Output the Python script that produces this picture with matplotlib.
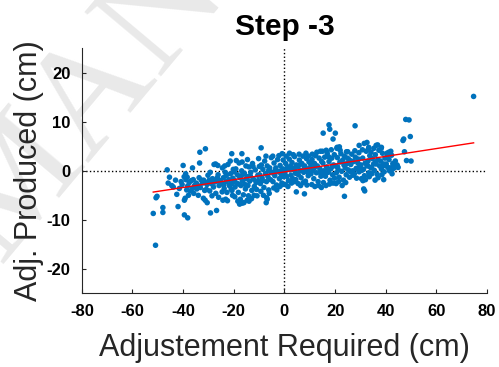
import numpy as np
import matplotlib.pyplot as plt

plt.rcParams['font.family'] = ['Liberation Sans', 'DejaVu Sans']
plt.rcParams['axes.unicode_minus'] = False

# Data: (adjustment required, adjustment produced), cm
pts = [
    # sparse points / outliers
    (74.7, 15.2), (-51.8, -8.7), (-50.9, -15.2), (-50.7, -5.5), (-50.3, -5.2),
    (-48.0, -7.5), (-48.0, -8.5), (-46.3, 0.2), (-45.4, -1.3), (-45.9, -2.5),
    (-43.9, -3.3), (-42.0, -7.3), (-40.0, 1.1), (-40.4, -2.8), (-39.5, -9.0),
    (-38.2, -9.6), (-39.5, -6.0), (-39.0, -0.6), (-38.4, -1.3), (-36.3, 0.6),
    (-33.4, 3.8), (-31.2, 4.5), (-31.3, -6.0), (-30.5, -6.5), (-29.2, -8.6),
    (-26.8, -8.1), (-27.2, 1.4), (-26.3, 1.1), (-20.8, 3.5), (-16.8, 3.5),
    (-9.2, 4.7), (-16.7, -6.6), (-17.7, -6.8), (-14.7, -6.0), (-14.0, -6.2),
    (-7.2, -6.5), (-6.8, -5.8), (-0.9, 3.5), (4.7, -4.3), (7.9, -4.7),
    (15.3, 7.7), (17.6, 9.4), (17.9, 8.5), (19.2, 6.5), (20.1, 7.7),
    (23.7, -5.2), (27.9, 9.2), (31.3, -3.7), (31.7, -4.1), (46.8, 6.2),
    (47.1, 6.5), (47.9, 10.5), (49.2, 10.4), (49.7, 7.0), (48.2, 2.1),
    (50.0, 2.0), (47.4, 3.9), (39.2, -1.8), (42.5, -0.6), (44.6, 0.9),
    (44.9, 0.7), (40.5, 2.8), (41.2, 3.8), (38.3, 4.8), (36.2, 5.2),
    (32.6, 5.8), (33.3, 4.8), (29.5, 5.2), (20.8, 4.8), (21.7, 4.9),
    # -45 .. -40
    (-44.5, -3.0), (-43.0, -1.9), (-41.5, -3.6), (-40.8, -2.2), (-42.5, -4.8),
    # -40 .. -35
    (-39.6, -1.2), (-38.9, -1.8), (-38.2, -3.1), (-37.6, -2.4), (-37.2, -4.1),
    (-36.8, -2.0), (-36.3, -3.6), (-35.8, -4.6), (-35.5, -3.0), (-37.9, -5.0),
    (-36.0, -1.8), (-38.6, -3.9), (-35.2, -3.0), (-39.2, -5.6),
    # -35 .. -30
    (-34.8, -2.5), (-34.3, -2.9), (-33.7, -1.4), (-33.2, -3.4), (-32.8, -1.9),
    (-32.3, -2.5), (-31.9, -1.9), (-31.5, -4.0), (-31.0, -2.4), (-30.6, -2.8),
    (-30.2, -0.9), (-34.0, -5.0), (-32.0, -5.6), (-33.5, 1.6), (-30.8, -3.8),
    (-34.6, -3.7),
    # -30 .. -25
    (-29.7, -1.9), (-29.3, -0.3), (-28.9, -2.6), (-28.4, -1.6), (-28.0, -3.3),
    (-27.6, -2.3), (-27.1, -4.6), (-26.7, -2.1), (-26.2, -0.8), (-25.8, -3.0),
    (-25.4, -2.0), (-29.5, -4.1), (-27.8, 1.3), (-26.0, -5.4), (-25.2, -2.4),
    (-28.6, -5.1), (-26.5, -1.4),
    # -25 .. -20
    (-24.8, -2.5), (-24.5, 0.6), (-24.1, -1.4), (-23.8, -3.6), (-23.4, -0.3),
    (-23.0, -2.2), (-22.7, -4.4), (-22.3, 1.3), (-22.0, -1.8), (-21.6, -3.1),
    (-21.3, -0.6), (-20.9, -2.6), (-20.5, -5.0), (-20.2, 0.3), (-24.3, -6.0),
    (-23.2, -5.8), (-22.5, -6.1), (-21.0, -3.8), (-20.4, -1.5), (-24.6, -4.3),
    (-23.6, 1.0), (-21.8, -2.9), (-20.7, -4.0), (-22.9, -0.9), (-21.4, 2.0),
    (-24.0, -2.9),
    # -20 .. -15
    (-19.8, -1.9), (-19.5, -3.3), (-19.2, 0.4), (-18.9, -2.5), (-18.6, -0.8),
    (-18.2, -4.4), (-17.9, 1.6), (-17.6, -1.4), (-17.2, -3.0), (-16.9, 0.0),
    (-16.5, -2.1), (-16.2, -4.9), (-15.8, -0.5), (-15.5, -2.8), (-15.2, 1.0),
    (-19.6, -5.3), (-18.4, -6.2), (-17.4, -5.8), (-16.0, -6.5), (-19.0, 2.1),
    (-17.0, -1.0), (-15.4, -3.7), (-18.0, -2.7), (-16.7, 1.8), (-19.9, -0.2),
    (-15.0, -1.6),
    # -15 .. -10
    (-14.8, -1.2), (-14.4, -3.0), (-14.0, 0.8), (-13.7, -2.1), (-13.3, -0.3),
    (-12.9, -4.0), (-12.6, 1.5), (-12.2, -1.7), (-11.9, -3.2), (-11.5, 0.2),
    (-11.2, -2.4), (-10.8, -5.1), (-10.5, -0.9), (-10.2, 2.5), (-14.2, -5.1),
    (-13.0, -5.7), (-12.0, -5.0), (-11.0, -3.8), (-14.6, 2.3), (-13.5, -1.0),
    (-10.4, -2.0), (-12.4, 0.9),
    # -10 .. -5
    (-9.8, -0.8), (-9.5, -2.6), (-9.1, 1.2), (-8.8, -1.5), (-8.5, 0.3),
    (-8.1, -3.4), (-7.8, 2.0), (-7.5, -0.6), (-7.1, -2.2), (-6.8, 1.0),
    (-6.5, -1.2), (-6.2, -3.9), (-5.8, 0.6), (-5.5, -1.8), (-5.2, 2.7),
    (-9.3, -4.2), (-8.3, -5.0), (-7.0, -5.5), (-6.0, -4.6), (-9.9, 0.9),
    (-7.3, 3.0), (-5.4, -0.2), (-8.7, -2.0), (-6.3, 0.0),
    # -5 .. 0
    (-4.8, -0.4), (-4.5, -2.2), (-4.1, 1.6), (-3.8, -1.0), (-3.4, 0.6),
    (-3.1, -2.9), (-2.7, 2.3), (-2.4, -0.2), (-2.0, -1.6), (-1.7, 1.1),
    (-1.3, -0.7), (-1.0, -2.5), (-0.6, 0.4), (-0.3, -1.2), (-4.2, -3.5),
    (-3.0, -3.9), (-1.8, -3.2), (-0.8, -2.8), (-4.6, 3.0), (-2.2, 3.1),
    (-0.5, 2.2), (-3.6, 0.1), (-1.5, 0.0),
    # 0 .. 5
    (0.2, -0.3), (0.5, 1.5), (0.9, -1.1), (1.2, 0.8), (1.6, -2.0),
    (1.9, 2.4), (2.3, 0.2), (2.6, -0.9), (3.0, 1.7), (3.3, -1.6),
    (3.7, 0.5), (4.0, 2.9), (4.4, -0.5), (4.7, 1.2), (0.4, -2.8),
    (1.4, -3.2), (2.8, -2.5), (3.9, -2.2), (0.7, 3.0), (2.0, 3.6),
    (3.5, 3.3), (4.5, -1.8), (1.0, 0.3), (2.5, 1.0), (4.2, 0.0),
    # 5 .. 10
    (5.2, 0.9), (5.5, -0.8), (5.9, 2.2), (6.2, 0.1), (6.6, -1.4),
    (6.9, 1.5), (7.3, 3.0), (7.6, -0.3), (8.0, 1.0), (8.3, -2.1),
    (8.7, 2.5), (9.0, 0.4), (9.4, -1.0), (9.7, 1.8), (5.4, -2.6),
    (6.4, -3.0), (7.4, -2.4), (8.9, -2.9), (5.8, 3.4), (8.5, 3.6),
    (9.5, 3.0), (6.0, 1.2), (7.9, 0.6), (9.2, -0.2),
    # 10 .. 15
    (10.2, 0.7), (10.5, -0.6), (10.9, 2.3), (11.2, 0.1), (11.6, -1.6),
    (11.9, 1.5), (12.3, 3.1), (12.6, -0.4), (13.0, 1.0), (13.3, -2.2),
    (13.7, 2.6), (14.0, 0.4), (14.4, -1.1), (14.7, 1.9), (10.8, -2.8),
    (12.0, -3.2), (13.5, -3.0), (14.6, -3.4), (11.0, 3.4), (12.8, 3.8),
    (14.2, 4.0), (10.4, 1.4), (13.9, -0.3), (11.8, 0.6),
    # 15 .. 20
    (15.2, 1.6), (15.5, 0.0), (15.9, 2.8), (16.2, -1.1), (16.6, 0.8),
    (16.9, 3.6), (17.3, -0.3), (17.6, 1.9), (18.0, -1.9), (18.3, 0.4),
    (18.7, 2.6), (19.0, -0.8), (19.4, 1.2), (19.7, 3.3), (15.4, -2.4),
    (16.4, -3.0), (17.8, -2.7), (19.2, -2.5), (15.0, 4.0), (16.5, 4.2),
    (18.5, 4.3), (17.0, 0.1), (18.9, 0.9), (15.8, -0.6), (19.8, -1.5),
    (17.4, 2.9),
    # 20 .. 25
    (20.2, 1.0), (20.5, -0.4), (20.9, 2.7), (21.2, 0.3), (21.6, -1.3),
    (21.9, 1.8), (22.3, 3.5), (22.6, -0.1), (23.0, 2.2), (23.3, -1.9),
    (23.7, 3.0), (24.0, 0.6), (24.4, -0.8), (24.7, 1.5), (20.4, -2.6),
    (21.4, -2.2), (22.8, -3.0), (24.2, -2.4), (20.7, 4.6), (22.0, 4.2),
    (24.5, 3.9), (23.5, 1.2), (21.0, 0.8), (24.9, 2.6),
    # 25 .. 30
    (25.2, 0.2), (25.5, 2.3), (25.9, -0.1), (26.2, 1.3), (26.6, 3.4),
    (26.9, 0.0), (27.3, 1.9), (27.6, -0.6), (28.0, 2.8), (28.3, 0.5),
    (28.7, 0.4), (29.0, 1.6), (29.4, 3.7), (29.7, 0.9), (25.7, -1.3),
    (27.0, -0.9), (28.5, -1.5), (29.5, -0.2), (25.0, 3.9), (27.8, 4.1),
    (26.4, 2.0), (29.2, 2.4),
    # 30 .. 35
    (30.2, 1.2), (30.5, 0.1), (30.9, 2.6), (31.2, 0.3), (31.6, -1.0),
    (31.9, 1.6), (32.3, 4.0), (32.6, 1.0), (33.0, 2.0), (33.3, -0.4),
    (33.7, 3.1), (34.0, 0.7), (34.4, 0.6), (34.7, 2.5), (30.4, -1.6),
    (31.0, -2.0), (32.0, -1.8), (33.5, -1.2), (34.5, -0.6), (30.8, 4.3),
    (33.2, 4.5), (34.2, 3.8), (31.5, 5.6), (32.8, 1.1),
    # 35 .. 40
    (35.2, 1.4), (35.5, 0.1), (35.9, 3.3), (36.2, 1.4), (36.6, -0.7),
    (36.9, 2.3), (37.3, 4.2), (37.6, 1.0), (38.0, 2.0), (38.3, 0.4),
    (38.7, 3.6), (39.0, 1.0), (39.4, -0.2), (39.7, 2.6), (35.8, -1.9),
    (37.0, -1.4), (38.5, -0.8), (35.3, 4.6), (36.8, 5.3), (38.2, 4.6),
    (36.0, 1.8), (39.2, 1.4),
    # 40 .. 45
    (40.2, 1.4), (40.8, 0.7), (41.3, 2.3), (41.8, 0.6), (42.3, 3.2),
    (42.8, 1.5), (43.3, 0.6), (43.8, 2.0), (44.2, 1.0), (40.5, 3.6),
    (41.5, 0.0), (42.0, 4.0), (43.0, 1.2), (44.5, 1.2), (42.6, 0.3),
]
required = np.array([p[0] for p in pts])
produced = np.array([p[1] for p in pts])

# fitted line as it reads off the picture
fit_slope = 0.0795
fit_intercept = -0.22

x_ticks = [-80, -60, -40, -20, 0, 20, 40, 60, 80]
y_ticks = [-20, -10, 0, 10, 20]

fig = plt.figure(figsize=(4.99, 3.67), dpi=100)

# faint watermark behind the chart
fig.text(0.0, 0.28, 'MAN', rotation=50, rotation_mode='anchor',
         fontsize=110, family='Liberation Serif', color='#e9e9e9',
         ha='left', va='baseline', zorder=-1)

ax = fig.add_axes([0.164, 0.201, 0.812, 0.667])
ax.patch.set_alpha(0)

ax.plot([0, 0], [-25, 25], ':', color='black', lw=1, zorder=1)
ax.plot([-80, 80], [0, 0], ':', color='black', lw=1, zorder=1)

ax.scatter(required, produced, s=16, color='#0072BD', edgecolors='none', zorder=2)

xf = np.array([required.min(), required.max()])
ax.plot(xf, fit_slope * xf + fit_intercept, color='red', lw=1, zorder=3)

ax.set_xlim(-80, 80)
ax.set_ylim(-25, 25)
ax.set_xticks(x_ticks)
ax.set_yticks(y_ticks)
ax.tick_params(direction='in', length=3, width=0.8, color='#262626',
               labelsize=12, pad=8)
for lab in ax.get_xticklabels() + ax.get_yticklabels():
    lab.set_fontweight('bold')
for s in ['top', 'right']:
    ax.spines[s].set_visible(False)
for s in ['left', 'bottom']:
    ax.spines[s].set_color('#262626')
    ax.spines[s].set_linewidth(0.8)

ax.set_xlabel('Adjustement Required (cm)', fontsize=22, color='#262626', labelpad=10)
ax.set_ylabel('Adj. Produced (cm)', fontsize=22, color='#262626', labelpad=2)
ax.set_title('Step -3', fontsize=21.5, fontweight='bold', pad=10)

fig.savefig('out.png', dpi=100)
